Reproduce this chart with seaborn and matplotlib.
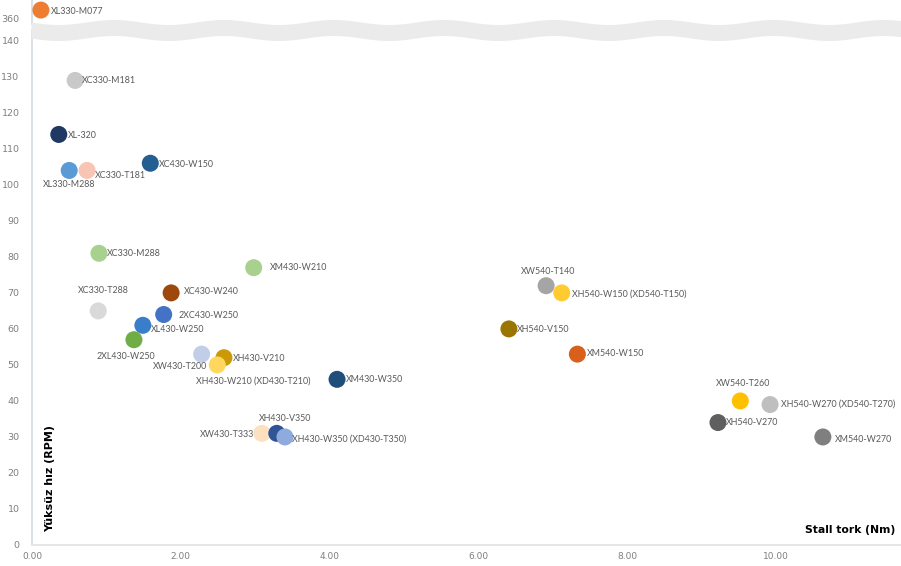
import numpy as np
import pandas as pd
import matplotlib
matplotlib.use("Agg")
import matplotlib.pyplot as plt
import seaborn as sns

sns.set_theme(style="white")
plt.rcParams['font.family'] = ['DejaVu Sans']

# data
models = ["XL330-M077", "XC330-M181", "XL-320", "XL330-M288", "XC330-T181", "XC430-W150",
          "XC330-M288", "XM430-W210", "XC330-T288", "XC430-W240", "2XC430-W250", "XL430-W250",
          "2XL430-W250", "XW430-T200", "XH430-V210", "XH430-W210 (XD430-T210)", "XM430-W350",
          "XW430-T333", "XH430-V350", "XH430-W350 (XD430-T350)", "XW540-T140",
          "XH540-W150 (XD540-T150)", "XH540-V150", "XM540-W150", "XW540-T260",
          "XH540-W270 (XD540-T270)", "XH540-V270", "XM540-W270"]
stall_torque = [0.12, 0.58, 0.36, 0.50, 0.74, 1.59,
                0.90, 2.98, 0.89, 1.87, 1.77, 1.49,
                1.37, 2.28, 2.58, 2.49, 4.10,
                3.09, 3.29, 3.40, 6.91,
                7.12, 6.41, 7.33, 9.52,
                9.92, 9.22, 10.63]
no_load_speed = [383, 129, 114, 104, 104, 106,
                 81, 77, 65, 70, 64, 61,
                 57, 53, 52, 50, 46,
                 31, 31, 30, 72,
                 70, 60, 53, 40,
                 39, 34, 30]
colors = ["#ED7D31", "#C9C9C9", "#1F3864", "#5B9BD5", "#F8C4B4", "#255E91",
          "#A9D18E", "#A9D18E", "#D9D9D9", "#9E480E", "#4472C4", "#3A7DC9",
          "#70AD47", "#C2CDE8", "#C99A06", "#FFD75E", "#1F4E79",
          "#FCE0BF", "#2F5597", "#8FAADC", "#A5A5A5",
          "#FFCB30", "#9A7600", "#D9601C", "#FFC000",
          "#BFBFBF", "#5F5F5F", "#7F7F7F"]

# label placement: (ha, dx px, dy px)
label_pos = [("left", 10, -1), ("left", 7, 0), ("left", 9, -1), ("center", 0, -14),
             ("left", 8, -5), ("left", 9, -1), ("left", 8, 0), ("left", 16, 0),
             ("center", 5, 20), ("left", 13, 1), ("left", 15, -1), ("left", 8, -4),
             ("center", -8, -17), ("center", -22, -12), ("left", 9, -1), ("center", 36, -16),
             ("left", 9, 0), ("right", -8, -1), ("center", 8, 15), ("left", 7, -2),
             ("center", 2, 14), ("left", 10, -1), ("left", 8, -1), ("left", 10, 1),
             ("center", 3, 17), ("left", 11, 0), ("left", 8, 0), ("left", 12, -3)]

df = pd.DataFrame({"model": models, "torque": stall_torque, "speed": no_load_speed})
palette = dict(zip(models, colors))

W, H = 901, 566
fig = plt.figure(figsize=(W / 100, H / 100), dpi=100)
left = 32 / W
width = (W - 32) / W
ax_top = fig.add_axes([left, (H - 24) / H, width, 24 / H])
ax = fig.add_axes([left, (H - 545) / H, width, (545 - 30) / H])

hi = df[df.speed > 200]
lo = df[df.speed <= 200]

for a, part in [(ax_top, hi), (ax, lo)]:
    sns.scatterplot(data=part, x="torque", y="speed", hue="model", palette=palette,
                    s=150, edgecolor="none", legend=False, ax=a, clip_on=False, zorder=3)
    a.set_xlim(0, 11.68)
    a.set_xlabel("")
    a.set_ylabel("")
    for s in ["top", "right"]:
        a.spines[s].set_visible(False)
    a.spines["left"].set_color("#d6dce4")
    a.tick_params(axis="both", length=0, labelsize=6.8, labelcolor="#7f7f7f")
    a.tick_params(axis="y", pad=9)
    for _, r in part.iterrows():
        i = models.index(r.model)
        ha, dx, dy = label_pos[i]
        a.annotate(r.model, (r.torque, r.speed), xytext=(dx, dy), textcoords="offset pixels",
                   ha=ha, va="center", fontsize=6.4, family="Lato", color="#595959", zorder=4,
                   annotation_clip=False)

ax_top.set_ylim(347, 409)
ax_top.set_yticks([360])
ax_top.set_xticks([])
ax_top.spines["bottom"].set_visible(False)

ax.set_ylim(0, 143)
ax.set_yticks(range(0, 141, 10))
ax.set_xticks(range(0, 11, 2))
ax.set_xticklabels([f"{v:.2f}" for v in range(0, 11, 2)])
ax.tick_params(axis="x", pad=5, labelsize=6.5)
ax.spines["bottom"].set_color("#e3e3e3")

ax.text(0.021, 0.13, "Yüksüz hız (RPM)", transform=ax.transAxes, rotation=90,
        ha="center", va="center", fontsize=8, fontweight="bold", color="black")
ax.text(0.993, 0.03, "Stall tork (Nm)", transform=ax.transAxes,
        ha="right", va="center", fontsize=7.8, fontweight="bold", color="black")

# axis break band
band = fig.add_axes([0, 0, 1, 1], zorder=5)
band.set_xlim(0, W)
band.set_ylim(H, 0)
band.axis("off")
bx = np.linspace(31, W, 500)
wave = 2.5 * np.sin(2 * np.pi * (bx - 31) / 110)
band.fill_between(bx, 22 + wave, 38 + wave, color="#ebebeb", lw=0)

fig.savefig("out.png", dpi=100)
